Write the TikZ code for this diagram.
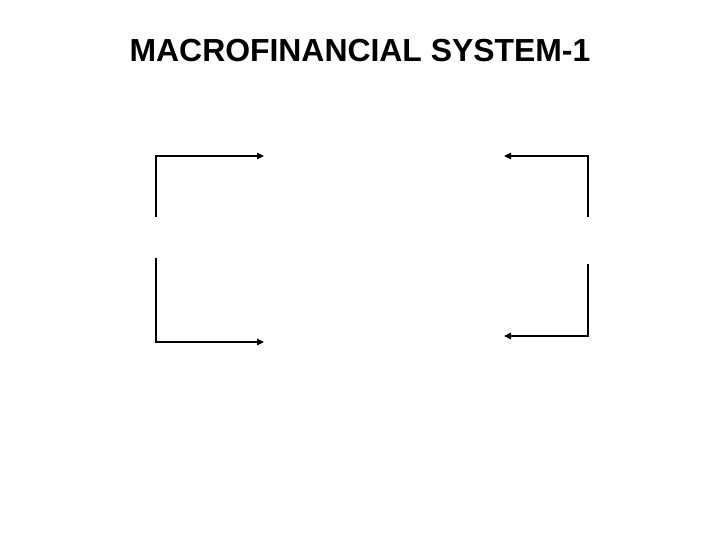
\documentclass[tikz,border=0pt]{standalone}
\usepackage{fontspec}
\setmainfont{Liberation Sans}
\usepackage{tikz}
\usetikzlibrary{arrows.meta}

\begin{document}
\begin{tikzpicture}[x=1pt,y=-1pt,
        flow/.style={line width=1.4pt, -{Triangle[length=7pt,width=6.5pt]}},
    ]
        \useasboundingbox (0,0) rectangle (720,540);

        % Title
        \node [font=\fontsize{31.9}{36}\selectfont\bfseries,
            anchor=base,
        ] (title) at (360,62){MACROFINANCIAL SYSTEM-1};

        % left side
        \coordinate (lefttopstart) at (156,217);
        \coordinate (lefttopend) at (264,156);
        \coordinate (leftbotstart) at (156,258);
        \coordinate (leftbotend) at (264,342);

        % right side
        \coordinate (righttopstart) at (588,217);
        \coordinate (righttopend) at (504,156);
        \coordinate (rightbotstart) at (588,264);
        \coordinate (rightbotend) at (504,336);

        \draw[flow] (lefttopstart) |- (lefttopend);
        \draw[flow] (leftbotstart) |- (leftbotend);
        \draw[flow] (righttopstart) |- (righttopend);
        \draw[flow] (rightbotstart) |- (rightbotend);
\end{tikzpicture}
\end{document}
